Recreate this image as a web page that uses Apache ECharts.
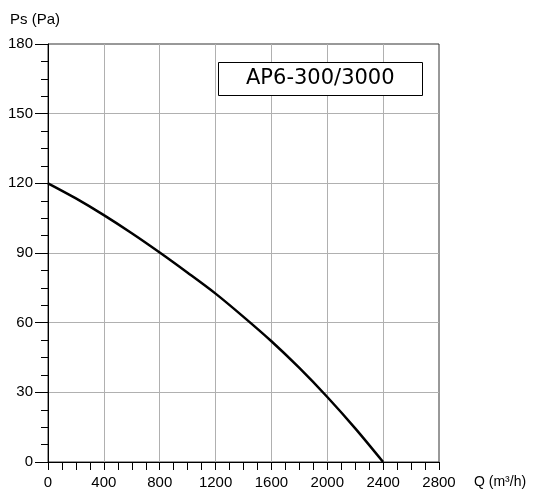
<!DOCTYPE html>
<html>
<head>
<meta charset="utf-8">
<script src="https://cdn.jsdelivr.net/npm/echarts@6/dist/echarts.min.js"></script>
<style>html,body{margin:0;padding:0;background:#fff}#c{width:544px;height:490px}</style>
</head>
<body>
<div id="c"></div>
<script>
const flowQ = [0, 200, 400, 600, 800, 1000, 1200, 1400, 1600, 1800, 2000, 2200, 2400];
const pressurePs = [120, 113.5, 106.3, 98.5, 90.2, 81.5, 72.5, 62.5, 52, 40.5, 28, 14.5, 0];
const xTicks = [0, 400, 800, 1200, 1600, 2000, 2400, 2800];
const yTicks = [0, 30, 60, 90, 120, 150, 180];
const modelName = 'AP6-300/3000';

const chart = echarts.init(document.getElementById('c'), null, {renderer: 'canvas'});
chart.setOption({
  animation: false,
  backgroundColor: '#fff',
  title: {
    text: modelName,
    left: 218, top: 62,
    padding: [6, 28, 7, 28],
    borderColor: '#000', borderWidth: 1,
    backgroundColor: '#fff',
    textStyle: {fontFamily: 'DejaVu Sans', fontSize: 21, fontWeight: 'normal', color: '#000'}
  },
  grid: {left: 48, right: 105, top: 44, bottom: 28, show: true, borderColor: '#333', borderWidth: 1, backgroundColor: 'transparent'},
  xAxis: {
    type: 'value', min: xTicks[0], max: xTicks[xTicks.length - 1], interval: 400,
    name: 'Q (m³/h)', nameLocation: 'end', nameGap: 35,
    nameTextStyle: {fontFamily: 'Liberation Sans', fontSize: 14, color: '#000', verticalAlign: 'top', padding: [13, 0, 0, 0]},
    axisLine: {show: true, onZero: false, lineStyle: {color: '#000', width: 1}},
    axisTick: {show: true, length: 8, lineStyle: {color: '#000'}},
    minorTick: {show: true, splitNumber: 4, length: 8, lineStyle: {color: '#000'}},
    axisLabel: {margin: 13, fontFamily: 'Liberation Sans', fontSize: 15, color: '#000', showMaxLabel: true, formatter: v => String(v)},
    splitLine: {show: true, showMinLine: false, showMaxLine: false, lineStyle: {color: '#b0b0b0', width: 1}}
  },
  yAxis: {
    type: 'value', min: yTicks[0], max: yTicks[yTicks.length - 1], interval: 30,
    name: 'Ps (Pa)', nameLocation: 'end', nameGap: 17,
    nameTextStyle: {fontFamily: 'Liberation Sans', fontSize: 15, color: '#000', align: 'center', padding: [0, 26, 0, 0]},
    axisLine: {show: true, onZero: false, lineStyle: {color: '#000', width: 1}},
    axisTick: {show: true, length: 13, lineStyle: {color: '#000'}},
    minorTick: {show: true, splitNumber: 4, length: 7, lineStyle: {color: '#000'}},
    axisLabel: {margin: 15, fontFamily: 'Liberation Sans', fontSize: 15, color: '#000', formatter: v => String(v)},
    splitLine: {show: true, showMinLine: false, showMaxLine: false, lineStyle: {color: '#b0b0b0', width: 1}}
  },
  series: [{
    type: 'line',
    data: flowQ.map((q, i) => [q, pressurePs[i]]),
    smooth: 0.3,
    symbol: 'none',
    lineStyle: {color: '#000', width: 2.5},
    z: 5
  }]
});
</script>
</body>
</html>
